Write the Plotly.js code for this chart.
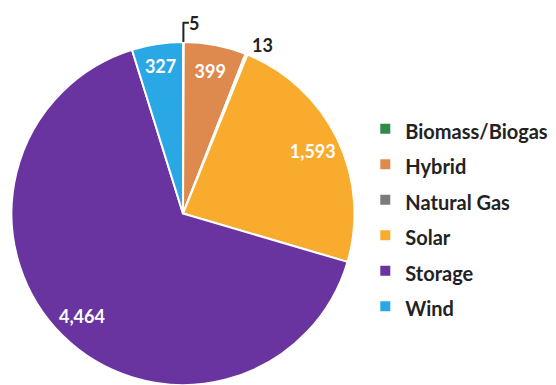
<!DOCTYPE html>
<html><head><meta charset="utf-8">
<script src="https://cdn.plot.ly/plotly-3.0.1.min.js"></script>
<style>html,body{margin:0;padding:0;background:#fff}#chart{width:556px;height:385px}</style>
</head><body><div id="chart"></div>
<script>
const labels = ["Biomass/Biogas", "Hybrid", "Natural Gas", "Solar", "Storage", "Wind"];
const values = [5, 399, 13, 1593, 4464, 327];
const colors = ["#2e8b4a", "#de8a4e", "#7b7b7b", "#f9ab2e", "#6a34a0", "#2aa8e6"];
const textPositions = ["outside", "inside", "outside", "inside", "inside", "inside"];

// legend entries shown at a smaller size while keeping the wide row spacing
const legendLabels = labels.map(l => '<span style="font-size:20px;font-weight:bold">' + l + '</span>');
const pieDomain = {x: [11.5/556, 354.5/556], y: [0, 343/385]};

// full pie: colours, borders and legend
const pieTrace = {
  type: "pie",
  labels: legendLabels,
  values: values,
  sort: false,
  direction: "clockwise",
  rotation: 0,
  marker: {colors: colors, line: {color: "#ffffff", width: 2}},
  textinfo: "none",
  hoverinfo: "value",
  domain: pieDomain
};

// transparent ring on top, only to place the value labels near the rim
const labelTrace = {
  type: "pie",
  labels: legendLabels,
  values: values,
  sort: false,
  direction: "clockwise",
  rotation: 0,
  hole: 0.68,
  showlegend: false,
  marker: {colors: labels.map(() => "rgba(0,0,0,0)"), line: {width: 0}},
  textinfo: "value",
  texttemplate: "%{value:,}",
  textposition: textPositions,
  insidetextorientation: "horizontal",
  insidetextfont: {color: "#ffffff", size: 18, family: "Lato", weight: "bold"},
  outsidetextfont: {color: "#222222", size: 18, family: "Lato", weight: "bold"},
  hoverinfo: "skip",
  domain: pieDomain
};

const layout = {
  width: 556, height: 385,
  margin: {l: 0, r: 0, t: 0, b: 0},
  paper_bgcolor: "#ffffff",
  showlegend: true,
  legend: {
    x: 0.657, y: 0.435, xanchor: "left", yanchor: "middle",
    font: {family: "Lato", size: 25, color: "#222222", weight: "bold"},
    itemwidth: 30
  },
  font: {family: "Lato"}
};

Plotly.newPlot("chart", [pieTrace, labelTrace], layout, {displayModeBar: false, staticPlot: true});
</script></body></html>
